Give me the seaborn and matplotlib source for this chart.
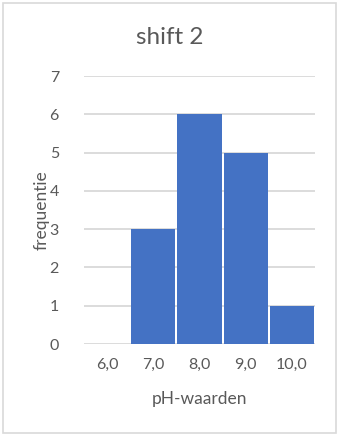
import matplotlib
matplotlib.use("Agg")
import matplotlib.pyplot as plt
import seaborn as sns
import pandas as pd
from matplotlib.patches import Rectangle

categories = ["6,0", "7,0", "8,0", "9,0", "10,0"]
values = [0, 3, 6, 5, 1]
yticks = [0, 1, 2, 3, 4, 5, 6, 7]

sns.set_theme(style="white")
plt.rcParams['font.family'] = ['Lato', 'DejaVu Sans']

df = pd.DataFrame({"ph": categories, "freq": values})

fig = plt.figure(figsize=(3.4, 4.36), dpi=100)
ax = fig.add_axes([84/340, 1 - 344/436, (315-84)/340, (344-76)/436])

sns.barplot(data=df, x="ph", y="freq", color="#4472C4", width=0.955,
            saturation=1, ax=ax, zorder=3)
for p in ax.patches:
    p.set_edgecolor("none")

ax.set_ylim(0, 7)
ax.set_yticks(yticks)
ax.set_yticklabels([str(t) for t in yticks])
ax.set_xlim(-0.5, len(categories) - 0.5)
ax.grid(axis="y", color="#D9D9D9", linewidth=1.3, zorder=0)
ax.set_axisbelow(True)
for s in ax.spines.values():
    s.set_visible(False)
ax.tick_params(axis="both", length=0, colors="#595959", labelsize=11.5)
ax.tick_params(axis="y", pad=18)
ax.tick_params(axis="x", pad=10)
ax.set_xlabel("pH-waarden", color="#595959", fontsize=12.5, labelpad=14)
ax.set_ylabel("frequentie", color="#595959", fontsize=12.5, labelpad=0)
fig.text(170/340, 1 - 38/436, "shift 2", ha="center", va="center",
         color="#595959", fontsize=17.5)

# chart border
fig.patches.append(Rectangle((3/340, 3/436), 333/340, 430/436,
                             transform=fig.transFigure, fill=False,
                             edgecolor="#D9D9D9", linewidth=1.2))

fig.savefig("out.png", dpi=100, facecolor="white")
